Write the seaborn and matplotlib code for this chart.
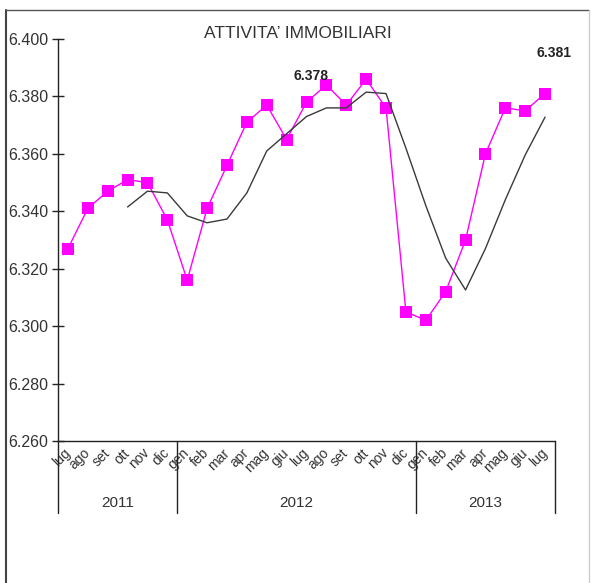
import numpy as np
import pandas as pd
import matplotlib
matplotlib.use("Agg")
import matplotlib.pyplot as plt
from matplotlib.lines import Line2D
import seaborn as sns

# dati
mesi = ["lug", "ago", "set", "ott", "nov", "dic",
        "gen", "feb", "mar", "apr", "mag", "giu", "lug", "ago", "set", "ott", "nov", "dic",
        "gen", "feb", "mar", "apr", "mag", "giu", "lug"]
anni = ["2011", "2012", "2013"]
mesi_per_anno = [6, 12, 7]
valori = [6.327, 6.341, 6.347, 6.351, 6.350, 6.337,
          6.316, 6.341, 6.356, 6.371, 6.377, 6.365, 6.378, 6.384, 6.377, 6.386, 6.376, 6.305,
          6.302, 6.312, 6.330, 6.360, 6.376, 6.375, 6.381]
media_mobile = [np.nan, np.nan, np.nan, 6.3415, 6.347, 6.3464,
                6.3384, 6.336, 6.3373, 6.3464, 6.361, 6.367, 6.373, 6.376, 6.376, 6.3815, 6.381, 6.362,
                6.342, 6.3237, 6.3126, 6.327, 6.344, 6.3596, 6.3728]
etichette = {12: "6.378", 24: "6.381"}

df = pd.DataFrame({"pos": np.arange(len(mesi)), "valore": valori, "media": media_mobile})

sns.set_style("white")
plt.rcParams["font.family"] = ["Liberation Sans", "DejaVu Sans"]

fig = plt.figure(figsize=(5.91, 5.83), dpi=100)
ax = fig.add_axes([58 / 591, 1 - 441 / 583, (555 - 58) / 591, (441 - 39) / 583])

sns.lineplot(data=df, x="pos", y="valore", ax=ax, color="#FF00FF", linewidth=1.0,
             marker="s", markersize=8.5, markeredgewidth=0)
sns.lineplot(data=df.dropna(), x="pos", y="media", ax=ax, color="#3a3a3a", linewidth=1.0)

ax.set_xlim(-0.5, len(mesi) - 0.5)
ax.set_ylim(6.26, 6.40)
ax.set_yticks(np.arange(6.26, 6.401, 0.02))
ax.set_yticklabels([f"{v:.3f}" for v in np.arange(6.26, 6.401, 0.02)], fontsize=11.5, color="#333333")
ax.tick_params(axis="y", direction="inout", length=8, width=1.0, color="#222222", pad=3, left=True)
ax.set_xticks(df["pos"])
ax.set_xticklabels(mesi, rotation=45, ha="right", va="center", rotation_mode="anchor",
                   fontsize=10, color="#333333")
ax.tick_params(axis="x", length=0, pad=7)
ax.set_xlabel("")
ax.set_ylabel("")
ax.grid(False)
for s in ["top", "right"]:
    ax.spines[s].set_visible(False)
for s in ["left", "bottom"]:
    ax.spines[s].set_color("#222222")
    ax.spines[s].set_linewidth(1.0)

# separatori e etichette degli anni
trans = ax.get_xaxis_transform()
inizio = -0.5
ax.plot([inizio, inizio], [0, -0.179], transform=trans, color="#222222", lw=1.0, clip_on=False)
for anno, n in zip(anni, mesi_per_anno):
    fine = inizio + n
    ax.plot([fine, fine], [0, -0.179], transform=trans, color="#222222", lw=1.0, clip_on=False)
    ax.text((inizio + fine) / 2, -0.154, anno, transform=trans, ha="center", va="center",
            fontsize=11, color="#333333")
    inizio = fine

# etichette dei valori
ax.annotate(etichette[12], (12, valori[12]), xytext=(4, 26), textcoords="offset pixels",
            ha="center", va="center", fontsize=10, fontweight="bold", color="#222222")
ax.annotate(etichette[24], (24, valori[24]), xytext=(9, 41), textcoords="offset pixels",
            ha="center", va="center", fontsize=10, fontweight="bold", color="#222222", annotation_clip=False)

fig.text(298 / 591, 1 - 34 / 583, "ATTIVITA’ IMMOBILIARI", ha="center", va="center",
         fontsize=12.5, color="#333333")

# cornice
fig.add_artist(Line2D([6 / 591, 6 / 591], [0, 1 - 10 / 583], transform=fig.transFigure, color="#444444", lw=1.5))
fig.add_artist(Line2D([6 / 591, 589 / 591], [1 - 10 / 583, 1 - 10 / 583], transform=fig.transFigure, color="#555555", lw=1.0))
fig.add_artist(Line2D([589 / 591, 589 / 591], [0, 1 - 10 / 583], transform=fig.transFigure, color="#cccccc", lw=1.0))

fig.savefig("out.png", dpi=100)
